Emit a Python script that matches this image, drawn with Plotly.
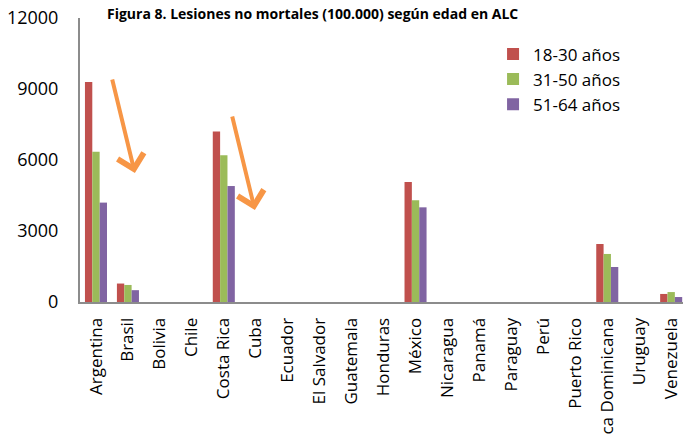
import plotly.graph_objects as go

# Countries and rates per 100.000 by age group
paises = ["Argentina", "Brasil", "Bolivia", "Chile", "Costa Rica", "Cuba", "Ecuador",
          "El Salvador", "Guatemala", "Honduras", "México", "Nicaragua", "Panamá",
          "Paraguay", "Perú", "Puerto Rico", "República Dominicana", "Uruguay", "Venezuela"]
edad_18_30 = [9300, 780, 0, 0, 7200, 0, 0, 0, 0, 0, 5070, 0, 0, 0, 0, 0, 2450, 0, 340]
edad_31_50 = [6350, 720, 0, 0, 6200, 0, 0, 0, 0, 0, 4300, 0, 0, 0, 0, 0, 2030, 0, 420]
edad_51_64 = [4200, 500, 0, 0, 4900, 0, 0, 0, 0, 0, 4000, 0, 0, 0, 0, 0, 1480, 0, 210]
y_ticks = [0, 3000, 6000, 9000, 12000]

FONT = "Open Sans"

fig = go.Figure()
for name, vals, color in [("18-30 años", edad_18_30, "#C0504D"),
                          ("31-50 años", edad_31_50, "#9BBB59"),
                          ("51-64 años", edad_51_64, "#8064A2")]:
    fig.add_trace(go.Bar(x=paises, y=vals, name=name, marker=dict(color=color, line_width=0)))

# Orange arrows drawn over the chart
for x, y in [(0.091, 0.454), (0.290, 0.324)]:
    fig.add_annotation(x=x, y=y, xref="paper", yref="paper", ax=-23, ay=-95,
                       showarrow=True, arrowhead=4, arrowsize=1.3, arrowwidth=4,
                       arrowcolor="#F79646", text="")

fig.update_layout(
    width=683, height=435,
    margin=dict(l=80, r=0, t=18, b=133),
    paper_bgcolor="white", plot_bgcolor="white",
    barmode="group", bargap=0.31, bargroupgap=0,
    font=dict(family=FONT, color="black"),
    title=dict(text="<b>Figura 8. Lesiones no mortales (100.000) según edad en ALC</b>",
               x=107 / 683, xanchor="left", y=0.968, yanchor="middle",
               font=dict(size=14, family=FONT)),
    legend=dict(x=0.685, y=0.935, xanchor="left", yanchor="top",
                font=dict(size=17), itemwidth=30,
                bgcolor="rgba(0,0,0,0)"),
    showlegend=True,
)
fig.update_xaxes(range=[-0.5, 18.37], tickangle=-90, tickfont=dict(size=17),
                 showline=True, linecolor="#8C8C8C", linewidth=2, ticks="",
                 ticklabelstandoff=7, automargin=False, showgrid=False)
fig.update_yaxes(range=[0, 12000], tickvals=y_ticks, ticktext=[str(v) for v in y_ticks],
                 tickfont=dict(size=18), showline=True, linecolor="#8C8C8C", linewidth=2,
                 showgrid=False, zeroline=False, ticks="", ticklabelstandoff=16,
                 automargin=False)

fig.write_html("out.html", config={"displayModeBar": False},
               post_script="document.body.style.margin='0';")
